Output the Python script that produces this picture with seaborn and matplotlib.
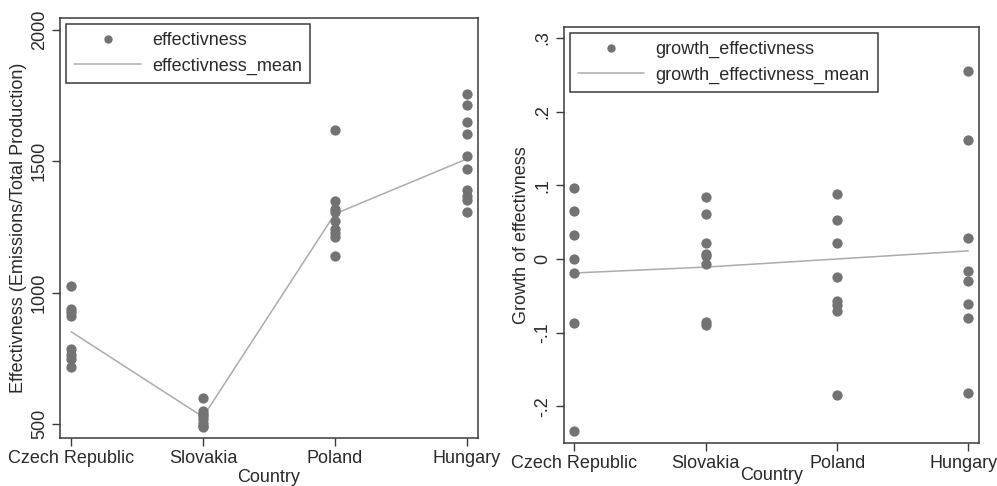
import numpy as np
import pandas as pd
import matplotlib
matplotlib.use("Agg")
import matplotlib.pyplot as plt
from matplotlib.lines import Line2D
import matplotlib.transforms as mtransforms
import seaborn as sns

countries = ["Czech Republic", "Slovakia", "Poland", "Hungary"]

eff_czech = [1027, 940, 928, 910, 785, 765, 750, 717]
eff_slovakia = [599, 550, 540, 530, 520, 505, 495, 490]
eff_poland = [1619, 1349, 1317, 1306, 1274, 1241, 1226, 1211, 1141]
eff_hungary = [1758, 1714, 1648, 1603, 1520, 1470, 1392, 1370, 1352, 1308]
eff_mean = [852, 528, 1300, 1509]

gr_czech = [0.096, 0.065, 0.033, 0.0, -0.019, -0.087, -0.234]
gr_slovakia = [0.084, 0.061, 0.021, 0.007, 0.004, -0.007, -0.086, -0.090]
gr_poland = [0.088, 0.053, 0.021, -0.024, -0.057, -0.062, -0.071, -0.185]
gr_hungary = [0.255, 0.162, 0.029, -0.016, -0.030, -0.061, -0.080, -0.182]
gr_mean = [-0.019, -0.011, 0.0, 0.011]

left_yticks = [500, 1000, 1500, 2000]
left_yticklabels = ["500", "1000", "1500", "2000"]
right_yticks = [-0.2, -0.1, 0.0, 0.1, 0.2, 0.3]
right_yticklabels = ["-.2", "-.1", "0", ".1", ".2", ".3"]


def long_df(groups):
    rows = []
    for c, vals in zip(countries, groups):
        for v in vals:
            rows.append((c, v))
    return pd.DataFrame(rows, columns=["Country", "value"])


df_eff = long_df([eff_czech, eff_slovakia, eff_poland, eff_hungary])
df_gr = long_df([gr_czech, gr_slovakia, gr_poland, gr_hungary])
df_eff_mean = pd.DataFrame({"Country": countries, "value": eff_mean})
df_gr_mean = pd.DataFrame({"Country": countries, "value": gr_mean})

sns.set_theme(style="white")
plt.rcParams["font.family"] = ["Liberation Sans", "DejaVu Sans"]
plt.rcParams["font.size"] = 13

PT_COLOR = "#737373"
LINE_COLOR = "#ababab"
FRAME = "#3a3a3a"
TEXT = "#2a2a2a"

fig = plt.figure(figsize=(9.97, 4.86), dpi=100)
axL = fig.add_axes([0.0605, 0.0994, 0.4186, 0.8629])
axR = fig.add_axes([0.5654, 0.0891, 0.4169, 0.8560])


def draw(ax, df, dfm, ylim, yticks, yticklabels, ylabel, lab_pts, lab_line,
         legend_bbox, xlabelpad):
    sns.pointplot(data=dfm, x="Country", y="value", order=countries, ax=ax,
                  color=LINE_COLOR, markers="", linewidth=1.1, errorbar=None)
    sns.stripplot(data=df, x="Country", y="value", order=countries, ax=ax,
                  jitter=False, color=PT_COLOR, size=7.4, linewidth=0)
    ax.set_xlim(-0.082, 3.083)
    ax.set_ylim(*ylim)
    ax.set_yticks(yticks)
    ax.set_yticklabels(yticklabels, rotation=90, va="center", color=TEXT, fontsize=13)
    ax.set_xticks(range(len(countries)))
    ax.set_xticklabels(countries, color=TEXT, fontsize=13)
    ax.set_xlabel("Country", color=TEXT, fontsize=13, labelpad=xlabelpad)
    ax.set_ylabel(ylabel, color=TEXT, fontsize=13, labelpad=3)
    ax.tick_params(axis="both", direction="out", length=6, width=1,
                   color=FRAME, left=True, bottom=True, pad=3)
    for s in ax.spines.values():
        s.set_visible(True)
        s.set_color(FRAME)
        s.set_linewidth(1.1)
    ax.grid(False)
    handles = [
        Line2D([], [], marker="o", linestyle="none", color=PT_COLOR,
               markersize=6, markeredgewidth=0),
        Line2D([], [], color=LINE_COLOR, linewidth=1.1),
    ]
    leg = ax.legend(handles, [lab_pts, lab_line], loc="upper left",
                    bbox_to_anchor=legend_bbox, frameon=True, fancybox=False,
                    edgecolor=FRAME, framealpha=1, fontsize=13,
                    handlelength=3.7, handletextpad=0.6, borderpad=0.45,
                    labelspacing=0.45, borderaxespad=0)
    leg.get_frame().set_linewidth(1.1)
    for t in leg.get_texts():
        t.set_color(TEXT)


draw(axL, df_eff, df_eff_mean, (449, 2044), left_yticks, left_yticklabels,
     "Effectivness (Emissions/Total Production)", "effectivness",
     "effectivness_mean", (0.014, 0.986), 1)
draw(axR, df_gr, df_gr_mean, (-0.2493, 0.3152), right_yticks, right_yticklabels,
     "Growth of effectivness", "growth_effectivness",
     "growth_effectivness_mean", (0.014, 0.985), -3.5)

# keep the last tick label of the right panel inside the figure
lab = axR.get_xticklabels()[-1]
lab.set_transform(lab.get_transform() + mtransforms.ScaledTranslation(-5 / 100, 0, fig.dpi_scale_trans))

fig.savefig("out.png", dpi=100, facecolor="white")
